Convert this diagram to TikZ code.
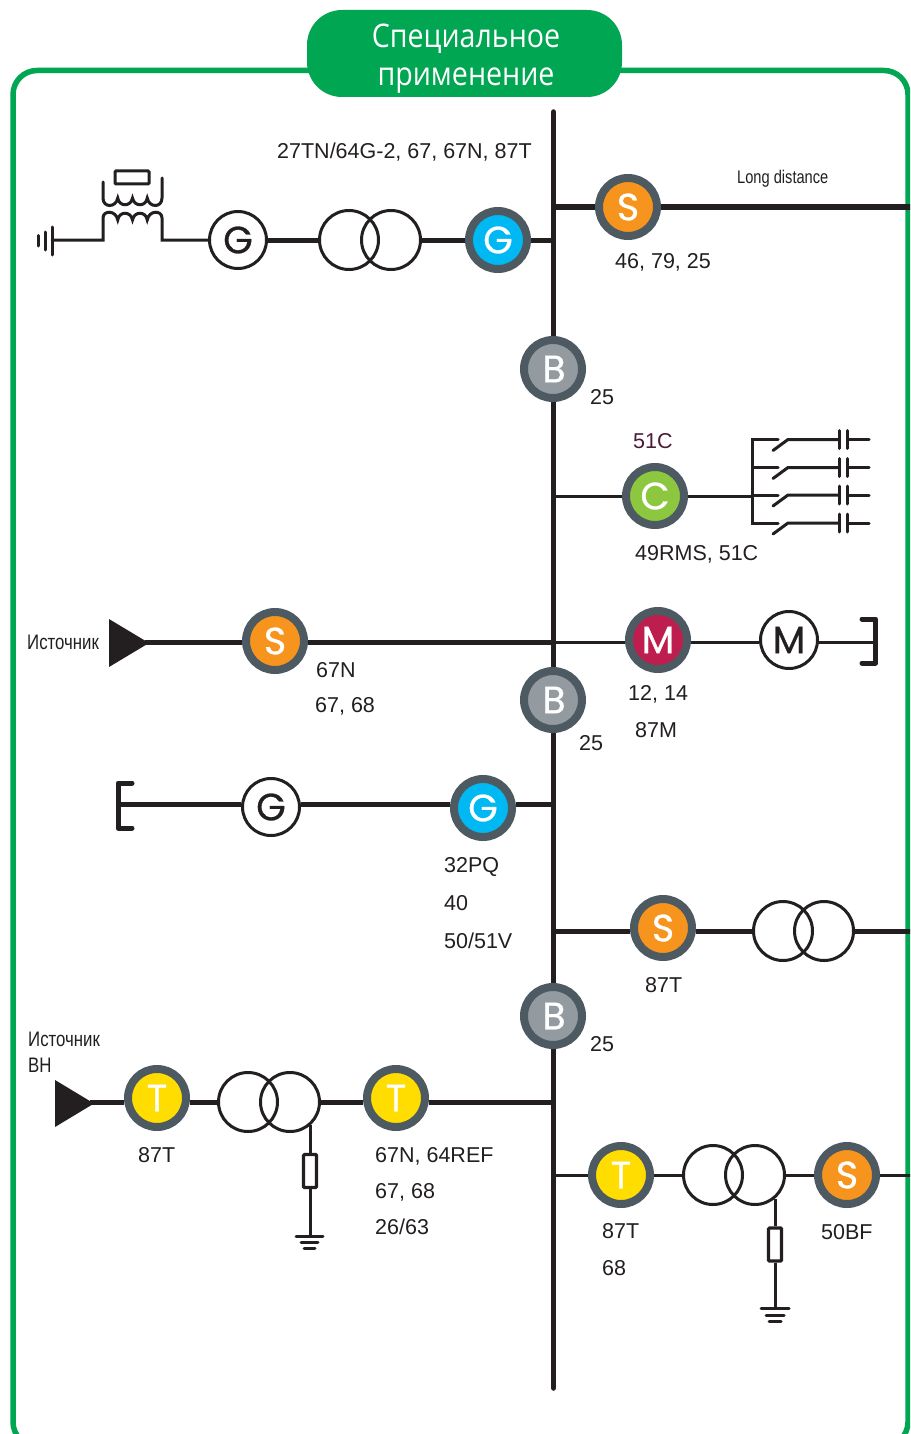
\documentclass[tikz,border=0pt]{standalone}
\usepackage{fontspec}
\setmainfont{Liberation Sans}
\newfontfamily\narrowfont[FakeStretch=0.8]{Liberation Sans}
\newfontfamily\headfont[FakeStretch=0.88]{Open Sans}
\newfontfamily\letterfont[FakeBold=0.7]{Poppins}
\definecolor{ink}{HTML}{231F20}
\definecolor{ringc}{HTML}{4D5A61}
\definecolor{frameg}{HTML}{00A651}
\definecolor{cs}{HTML}{F7941D}
\definecolor{cg}{HTML}{00B9F2}
\definecolor{cb}{HTML}{939BA1}
\definecolor{cc}{HTML}{8DC63F}
\definecolor{cm}{HTML}{BE1E4D}
\definecolor{ct}{HTML}{FFDD00}
\definecolor{cl}{HTML}{4A1C35}
\tikzset{
 x=1pt,y=-1pt,
 relay/.style={circle,draw=ringc,line width=8pt,minimum size=58pt,inner sep=0pt,text=white,font=\letterfont\fontsize{38}{38}\selectfont},
 machine/.style={circle,draw=ink,fill=white,line width=3pt,minimum size=57pt,inner sep=0pt,text=ink,font=\letterfont\fontsize{38}{38}\selectfont},
 winding/.style={circle,draw=ink,line width=3pt,minimum size=59pt,inner sep=0pt},
 lab/.style={anchor=base west,inner sep=0pt,text=ink,font=\fontsize{21.5}{21.5}\selectfont},
 narrow/.style={anchor=base west,inner sep=0pt,text=ink,font=\narrowfont\fontsize{21}{21}\selectfont},
 narrowen/.style={anchor=base west,inner sep=0pt,text=ink,font=\narrowfont\fontsize{18.3}{18.3}\selectfont},
 headtext/.style={anchor=base,text=white,font=\headfont\fontsize{32.5}{32.5}\selectfont,inner sep=0pt},
 heavy/.style={draw=ink,line width=5pt},
 light/.style={draw=ink,line width=3pt},
 symb/.style={draw=ink,line width=3pt,line cap=round},
 bracket/.style={draw=ink,line width=5pt,line join=round,line cap=round},
 resistor/.style={draw=ink,line width=3.2pt,fill=white,rounded corners=1pt,minimum width=13pt,minimum height=33pt,inner sep=0pt}
}
\begin{document}
\begin{tikzpicture}
\useasboundingbox (0,0) rectangle (910,1434);
\clip (0,0) rectangle (910,1434);
\fill[white] (0,0) rectangle (910,1434);
% frame and heading
\draw[frameg,line width=5.5pt,rounded corners=24pt] (13,70.5) rectangle (908,1446);
\node[fill=frameg,draw=none,rounded corners=35pt,minimum width=315pt,minimum height=87pt,inner sep=0pt] (head) at (464.5,53.5) {};
\node[headtext] (h1) at (466,47.5) {Специальное};
\node[headtext] (h2) at (466,85.5) {применение};
% bus
\coordinate (busT) at (553.5,112);
\coordinate (busB) at (553.5,1388);
\coordinate (rightE) at (912,700);
\draw[draw=ink,line width=5.5pt,line cap=round] (busT) -- (busB);
% relays
\node[relay,fill=cg] (g2) at (498,240) {G};
\node[relay,fill=cs] (s1) at (628,207) {S};
\node[relay,fill=cb] (b1) at (553,369) {\hspace{2pt}B};
\node[relay,fill=cc] (c1) at (655,496) {C};
\node[relay,fill=cs] (s2) at (275,641) {S};
\node[relay,fill=cm] (m1) at (658,640) {M};
\node[relay,fill=cb] (b2) at (553,700) {\hspace{2pt}B};
\node[relay,fill=cg] (g4) at (483,808) {G};
\node[relay,fill=cs] (s3) at (663,928) {S};
\node[relay,fill=cb] (b3) at (553,1016) {\hspace{2pt}B};
\node[relay,fill=ct] (t1) at (157,1098) {T};
\node[relay,fill=ct] (t2) at (396,1098) {T};
\node[relay,fill=ct] (t3) at (621,1175) {T};
\node[relay,fill=cs] (s4) at (847,1175) {S};
% machines and windings
\node[machine] (g1) at (238,240) {G};
\node[machine] (m2) at (789,640) {M};
\node[machine] (g3) at (271,807) {G};
\node[winding] (x1a) at (349,240) {};
\node[winding] (x1b) at (391,240) {};
\node[winding] (x2a) at (783,931) {};
\node[winding] (x2b) at (824,931) {};
\node[winding] (x3a) at (248,1102) {};
\node[winding] (x3b) at (290,1102) {};
\node[winding] (x4a) at (713,1175) {};
\node[winding] (x4b) at (755,1175) {};
% row 1
\path[heavy] (g1.east) -- (x1a.west);
\path[heavy] (x1b.east) -- (g2.west);
\path[heavy] (g2.east) -- (g2-|busT);
\path[heavy] (s1-|busT) -- (s1.west);
\path[heavy] (s1.east) -- (s1-|rightE);
% ground transformer
\coordinate (gt1) at (52,240);
\coordinate (gt2) at (103,240);
\draw[symb] (gt1) -- (gt2) -- (103,218)
  .. controls (103,210) and (116,210) .. (117.75,220)
  .. controls (119,211) and (131,211) .. (132.5,220)
  .. controls (134,211) and (146,211) .. (147.25,220)
  .. controls (149,210) and (162,210) .. (162,218) -- (162,240) -- (g1.west);
\draw[symb] (103,182) -- (103,198)
  .. controls (103,208) and (116,208) .. (117.75,198)
  .. controls (119,207) and (131,207) .. (132.5,198)
  .. controls (134,207) and (146,207) .. (147.25,198)
  .. controls (149,208) and (162,208) .. (162,198) -- (162,178);
\draw[symb,rounded corners=1pt] (115,171) rectangle (149,184);
\draw[symb] (52,227) -- (52,255);
\draw[symb] (45,232) -- (45,250);
\draw[symb] (38.5,235.5) -- (38.5,246);
% capacitor bank
\coordinate (cb0) at (752.5,439.5);
\coordinate (cb3) at (752.5,523);
\draw[light] (c1.east) -- (c1-|cb0);
\draw[draw=ink,line width=3pt,line join=miter] (778,439.5) -- (cb0) -- (cb3) -- (778,523);
\foreach \y in {439.5,467.5,495,523}{
  \draw[symb] (752.5,\y) -- (778,\y);
  \draw[symb] (773,\y+11) -- (788,\y) -- (839,\y);
  \draw[symb] (839.5,\y-9) -- (839.5,\y+9);
  \draw[symb] (847.5,\y-9) -- (847.5,\y+9);
  \draw[symb] (847.5,\y) -- (869,\y);
}
\path[light] (c1.west) -- (c1-|busT);
% source row
\coordinate (src1) at (145,642.5);
\fill[ink] (109,619) -- (149,643) -- (109,667) -- cycle;
\path[heavy] (src1) -- (s2.west|-src1);
\path[heavy] (s2.east|-src1) -- (src1-|busT);
\path[light] (src1-|busT) -- (m1.west|-src1);
\path[light] (m1.east|-src1) -- (m2.west|-src1);
\coordinate (br1) at (875.5,619);
\coordinate (br2) at (875.5,663);
\path[light] (m2.east|-src1) -- (src1-|br1);
\path[bracket] (862,619) -- (br1) -- (br2) -- (862,663);
% second generator
\coordinate (br3) at (118,783);
\coordinate (br4) at (118,828);
\coordinate (l4) at (118,804);
\path[bracket] (132,783) -- (br3) -- (br4) -- (132,828);
\path[heavy] (l4) -- (g3.west|-l4);
\path[heavy] (g3.east|-l4) -- (g4.west|-l4);
\path[heavy] (g4.east|-l4) -- (l4-|busT);
% S transformer row
\path[heavy] (x2a-|busT) -- (s3.west|-x2a);
\path[heavy] (s3.east|-x2a) -- (x2a.west);
\path[heavy] (x2b.east) -- (x2b-|rightE);
% source HV row
\coordinate (src2) at (90,1102);
\fill[ink] (55,1080) -- (94,1103.5) -- (55,1127) -- cycle;
\path[heavy] (src2) -- (t1.west|-src2);
\path[heavy] (t1.east|-src2) -- (x3a.west);
\path[heavy] (x3b.east) -- (t2.west|-x3b);
\path[heavy] (t2.east|-x3b) -- (x3b-|busT);
% resistor 1
\node[resistor] (r1) at (310,1171) {};
\coordinate (e1) at (310,1236);
\draw[light] (310,1125) -- (r1.north);
\draw[light] (r1.south) -- (e1);
\draw[symb] (296,1236) -- (323,1236);
\draw[symb] (301,1242) -- (318,1242);
\draw[symb] (304,1248) -- (315,1248);
% bottom row
\path[light] (t3-|busT) -- (t3.west);
\path[light] (t3.east) -- (x4a.west);
\path[light] (x4b.east) -- (s4.west);
\path[light] (s4.east) -- (s4-|rightE);
\node[resistor] (r2) at (775,1244.5) {};
\coordinate (e2) at (775,1308);
\draw[light] (775,1199) -- (r2.north);
\draw[light] (r2.south) -- (e2);
\draw[symb] (761,1308) -- (789,1308);
\draw[symb] (766,1315) -- (784,1315);
\draw[symb] (769,1321) -- (781,1321);
% labels
\node[lab] (l01) at (277,158.5) {27TN/64G-2, 67, 67N, 87T};
\node[narrowen] (l02) at (737,184) {Long distance};
\node[lab] (l03) at (615,268.5) {46, 79, 25};
\node[lab] (l04) at (590,404.5) {25};
\node[lab,text=cl] (l05) at (633,448.5) {51C};
\node[lab] (l06) at (635,560) {49RMS, 51C};
\node[narrow] (l07) at (27,649) {Источник};
\node[lab] (l08) at (316,677) {67N};
\node[lab] (l09) at (315,712.5) {67, 68};
\node[lab] (l10) at (628,700.5) {12, 14};
\node[lab] (l11) at (635,737.5) {87M};
\node[lab] (l12) at (579,750.5) {25};
\node[lab] (l13) at (444,872.5) {32PQ};
\node[lab] (l14) at (444,910) {40};
\node[lab] (l15) at (444,948) {50/51V};
\node[lab] (l16) at (645,992) {87T};
\node[lab] (l17) at (590,1051) {25};
\node[narrow] (l18) at (28,1046) {Источник};
\node[narrow] (l19) at (28,1072) {ВН};
\node[lab] (l20) at (138,1162) {87T};
\node[lab] (l21) at (375,1162.5) {67N, 64REF};
\node[lab] (l22) at (375,1198.5) {67, 68};
\node[lab] (l23) at (375,1234) {26/63};
\node[lab] (l24) at (602,1238) {87T};
\node[lab] (l25) at (602,1275.5) {68};
\node[lab] (l26) at (821,1239) {50BF};
\end{tikzpicture}
\end{document}
